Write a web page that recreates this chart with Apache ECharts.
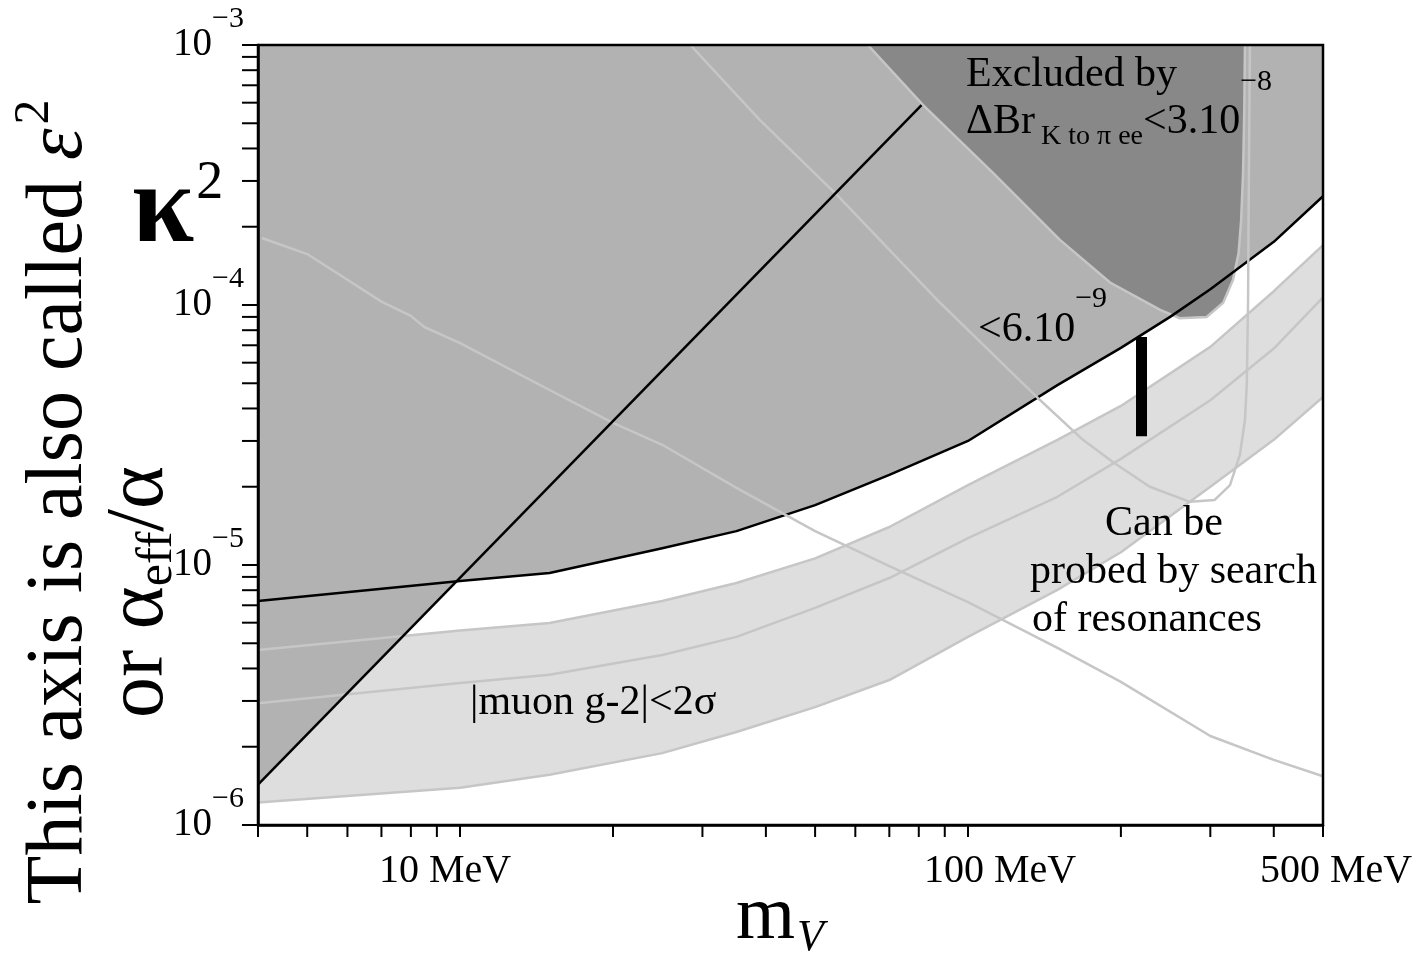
<!DOCTYPE html>
<html><head><meta charset="utf-8">
<script src="https://cdn.jsdelivr.net/npm/echarts@6/dist/echarts.min.js"></script>
<style>html,body{margin:0;padding:0;background:#fff}#c{width:1416px;height:954px}</style>
</head><body><div id="c"></div>
<script>
// ---------- axis ranges & tick labels ----------
const xMin = 4, xMax = 500, yMin = 1e-6, yMax = 1e-3;
const xTickValues = [10, 100, 500];
const xTickLabels = ['10 MeV', '100 MeV', '500 MeV'];
const xMinorTicks = [5, 6, 7, 8, 9, 20, 30, 40, 50, 60, 70, 80, 90, 200, 300, 400];
const yMinorTicks = [2e-6, 3e-6, 4e-6, 5e-6, 6e-6, 7e-6, 8e-6, 9e-6,
                     2e-5, 3e-5, 4e-5, 5e-5, 6e-5, 7e-5, 8e-5, 9e-5,
                     2e-4, 3e-4, 4e-4, 5e-4, 6e-4, 7e-4, 8e-4, 9e-4];

// ---------- lower edge of the excluded (grey) region, black curve ----------
const exclMass   = [4, 10, 15, 25, 35, 50, 70, 100, 150, 200, 250, 300, 400, 500];
const exclKappa2 = [7.27e-6, 8.68e-6, 9.31e-6, 1.16e-5, 1.35e-5, 1.7e-5, 2.22e-5, 3.0e-5, 4.92e-5, 6.84e-5, 9.0e-5, 1.15e-4, 1.75e-4, 2.62e-4];

// ---------- straight black line (electron g-2) ----------
const eMass   = [4, 81];
const eKappa2 = [1.43e-6, 5.87e-4];

// ---------- muon g-2 band ----------
const gMass    = [4, 10, 15, 25, 35, 50, 70, 100, 150, 200, 300, 400, 500];
const gUpper   = [4.71e-6, 5.6e-6, 5.98e-6, 7.27e-6, 8.53e-6, 1.06e-5, 1.4e-5, 2.03e-5, 3.03e-5, 4.09e-5, 6.9e-5, 1.13e-4, 1.70e-4];
const gCentral = [2.94e-6, 3.52e-6, 3.78e-6, 4.51e-6, 5.29e-6, 6.84e-6, 8.91e-6, 1.27e-5, 1.83e-5, 2.56e-5, 4.3e-5, 6.8e-5, 1.07e-4];
const gLower   = [1.22e-6, 1.39e-6, 1.56e-6, 1.89e-6, 2.28e-6, 2.84e-6, 3.61e-6, 5.29e-6, 8.02e-6, 1.12e-5, 2.0e-5, 3.03e-5, 4.43e-5];

// ---------- long light-grey descending line ----------
const aMass   = [4.07, 5, 6, 7, 8, 8.5, 10, 15, 20, 25, 35, 50, 70, 100, 150, 200, 300, 400, 500];
const aKappa2 = [1.81e-4, 1.57e-4, 1.25e-4, 1.03e-4, 9.08e-5, 8.23e-5, 7.14e-5, 4.71e-5, 3.52e-5, 2.9e-5, 1.98e-5, 1.35e-5, 9.9e-6, 7.2e-6, 4.8e-6, 3.55e-6, 2.2e-6, 1.78e-6, 1.54e-6];

// ---------- K -> pi ee  < 6e-9 contour ----------
const bMass   = [28.4, 38.9, 55.2, 88.1, 138.6, 168.4, 192.8, 228, 273.5, 306, 328, 343, 351, 354, 356, 357, 359];
const bKappa2 = [1e-3, 5.15e-4, 2.65e-4, 1.02e-4, 4.31e-5, 3.03e-5, 2.49e-5, 2.0e-5, 1.75e-5, 1.78e-5, 2.03e-5, 2.65e-5, 3.61e-5, 5.01e-5, 1.05e-4, 2.53e-4, 1e-3];

// ---------- K -> pi ee  < 3e-8 excluded (dark) region ----------
const cMass   = [63.5, 81.5, 112, 151.7, 190.4, 239, 261, 295, 318, 332.5, 341, 345, 348, 350, 351];
const cKappa2 = [1e-3, 5.88e-4, 3.22e-4, 1.78e-4, 1.22e-4, 9.57e-5, 8.9e-5, 8.99e-5, 1.02e-4, 1.25e-4, 1.58e-4, 2.12e-4, 3.22e-4, 5.78e-4, 1e-3];

// ---------- thick black bar ----------
const barMass   = [219.6, 219.6];
const barKappa2 = [7.53e-5, 3.13e-5];

// ================================================================
const FONT = '"Liberation Serif", "Times New Roman", serif';
const C_GREY = '#b2b2b2', C_DARK = '#888888', C_BAND = '#dedede', C_LINE = '#c6c6c6';

function pts(xs, ys) { return xs.map((x, i) => [x, ys[i]]); }

function polygonSeries(points, fill, stroke, lw) {
  return {
    type: 'custom', coordinateSystem: 'cartesian2d', silent: true, clip: true,
    data: points, encode: { x: 0, y: 1 },
    renderItem: (params, api) => {
      if (params.dataIndex !== 0) return null;
      return { type: 'polygon', shape: { points: points.map(p => api.coord(p)) },
               style: { fill: fill, stroke: stroke || null, lineWidth: lw || 0 } };
    }
  };
}
function lineSeries(xs, ys, color, width, cap) {
  return { type: 'line', data: pts(xs, ys), symbol: 'none', showSymbol: false, silent: true,
           lineStyle: { color: color, width: width, cap: cap || 'butt', join: 'round' } };
}
function tickSeries(points, dx, dy) {
  return {
    type: 'custom', coordinateSystem: 'cartesian2d', silent: true, clip: false,
    data: points, encode: { x: 0, y: 1 },
    renderItem: (params, api) => {
      const p = api.coord([api.value(0), api.value(1)]);
      return { type: 'line', shape: { x1: p[0], y1: p[1], x2: p[0] + dx, y2: p[1] + dy },
               style: { stroke: '#000', lineWidth: 2 } };
    }
  };
}

const bandPoly = pts(gMass, gUpper).concat(pts(gMass, gLower).reverse());
const greyPoly = pts(exclMass, exclKappa2).concat([[xMax, yMax], [xMin, yMax]]);
const greyTri  = pts(eMass, eKappa2).concat([[xMin, yMax]]);
const darkPoly = pts(cMass, cKappa2);

const xRich = {
  t0: { fontFamily: FONT, fontSize: 40, color: '#000', padding: [0, 30, 0, 0] },
  t1: { fontFamily: FONT, fontSize: 40, color: '#000', padding: [0, 0, 0, 64] },
  t2: { fontFamily: FONT, fontSize: 40, color: '#000', padding: [0, 0, 0, 26] }
};

const option = {
  animation: false,
  backgroundColor: '#fff',
  grid: { left: 258, right: 93, top: 45, bottom: 129, show: true, borderColor: '#000', borderWidth: 2.5, backgroundColor: 'transparent', z: 10 },
  xAxis: {
    type: 'log', logBase: 10, min: xMin, max: xMax, z: 10,
    axisLine: { show: true, onZero: false, lineStyle: { color: '#000', width: 2.5 } },
    axisTick: { show: true, inside: false, length: 12, lineStyle: { color: '#000', width: 2 } },
    splitLine: { show: false }, minorTick: { show: false },
    axisLabel: {
      show: true, margin: 26, showMinLabel: true, showMaxLabel: true,
      formatter: v => { const i = xTickValues.indexOf(Math.round(v)); return i < 0 ? '' : '{t' + i + '|' + xTickLabels[i] + '}'; },
      rich: xRich
    }
  },
  yAxis: {
    type: 'log', logBase: 10, min: yMin, max: yMax, z: 10,
    axisLine: { show: true, onZero: false, lineStyle: { color: '#000', width: 2.5 } },
    axisTick: { show: true, inside: false, length: 16, lineStyle: { color: '#000', width: 2 } },
    splitLine: { show: false }, minorTick: { show: false },
    axisLabel: {
      show: true, margin: 14, showMinLabel: true, showMaxLabel: true,
      formatter: v => '{b|10}{s|\u2212' + (-Math.round(Math.log10(v))) + '}',
      rich: {
        b: { fontFamily: FONT, fontSize: 39, lineHeight: 40, color: '#000' },
        s: { fontFamily: FONT, fontSize: 30, lineHeight: 30, color: '#000', padding: [0, 0, 52, 0] }
      }
    }
  },
  series: [
    polygonSeries(bandPoly, C_BAND),
    polygonSeries(greyPoly, C_GREY),
    polygonSeries(greyTri, C_GREY),
    lineSeries(exclMass, exclKappa2, '#000', 2.5),
    polygonSeries(darkPoly, C_DARK, C_LINE, 2.5),
    lineSeries(gMass, gUpper, C_LINE, 2.5),
    lineSeries(gMass, gCentral, C_LINE, 2.5),
    lineSeries(gMass, gLower, C_LINE, 2.5),
    lineSeries(aMass, aKappa2, C_LINE, 2.5),
    lineSeries(bMass, bKappa2, C_LINE, 2.5),
    lineSeries(eMass, eKappa2, '#000', 2.5),
    lineSeries(barMass, barKappa2, '#000', 11),
    tickSeries(xMinorTicks.map(v => [v, yMin]), 0, 12),
    tickSeries(yMinorTicks.map(v => [xMin, v]), -16, 0)
  ],
  graphic: [
    { type: 'text', left: 966, top: 54, z: 100, style: { text: 'Excluded by', font: '42px ' + FONT, fill: '#000' } },
    { type: 'text', left: 966, top: 67, z: 100, style: {
        text: '{m|\u0394Br}{sub|K to \u03c0 ee}{m|<3.10}{sup|\u22128}',
        rich: { m: { font: '42px ' + FONT, fill: '#000', lineHeight: 44 },
                sub: { font: '28px ' + FONT, fill: '#000', lineHeight: 28, padding: [30, 0, 0, 6] },
                sup: { font: '30px ' + FONT, fill: '#000', lineHeight: 30, padding: [0, 0, 80, 0] } } } },
    { type: 'text', left: 978, top: 284, z: 100, style: {
        text: '{m|<6.10}{sup|\u22129}',
        rich: { m: { font: '42px ' + FONT, fill: '#000', lineHeight: 44 },
                sup: { font: '30px ' + FONT, fill: '#000', lineHeight: 30, padding: [0, 0, 62, 0] } } } },
    { type: 'text', left: 1105, top: 503, z: 100, style: { text: 'Can be', font: '42px ' + FONT, fill: '#000' } },
    { type: 'text', left: 1030, top: 551, z: 100, style: { text: 'probed by search', font: '42px ' + FONT, fill: '#000' } },
    { type: 'text', left: 1032, top: 599, z: 100, style: { text: 'of resonances', font: '42px ' + FONT, fill: '#000' } },
    { type: 'text', left: 470, top: 682, z: 100, style: { text: '|muon g-2|<2\u03c3', font: '42px ' + FONT, fill: '#000' } },
    { type: 'text', left: 132, top: 156, z: 100, style: {
        text: '{k|\u03ba}{sup|2}',
        rich: { k: { font: 'bold 112px ' + FONT, fill: '#000', lineHeight: 112 },
                sup: { font: '54px ' + FONT, fill: '#000', lineHeight: 54, padding: [0, 0, 56, 2] } } } },
    { type: 'text', x: 60, y: 502, rotation: Math.PI / 2, z: 100, style: {
        text: 'This axis is also called {e|\u03b5}{sup|2}', align: 'center', verticalAlign: 'middle',
        font: '80px ' + FONT, fill: '#000',
        rich: { e: { font: 'italic 80px ' + FONT, fill: '#000' },
                sup: { font: '50px ' + FONT, fill: '#000', padding: [0, 0, 50, 4] } } } },
    { type: 'text', x: 140, y: 592, rotation: Math.PI / 2, z: 100, style: {
        text: 'or \u03b1{sub|eff}/\u03b1', align: 'center', verticalAlign: 'middle',
        font: '82px ' + FONT, fill: '#000',
        rich: { sub: { font: '50px ' + FONT, fill: '#000', padding: [36, 0, 0, 0] } } } },
    { type: 'text', left: 736, top: 880, z: 100, style: {
        text: '{m|m}{sub|V}',
        rich: { m: { font: '76px ' + FONT, fill: '#000' },
                sub: { font: 'italic 44px ' + FONT, fill: '#000', padding: [40, 0, 0, 2] } } } }
  ]
};

const chart = echarts.init(document.getElementById('c'), null, { renderer: 'canvas' });
chart.setOption(option);
</script>
</body></html>
